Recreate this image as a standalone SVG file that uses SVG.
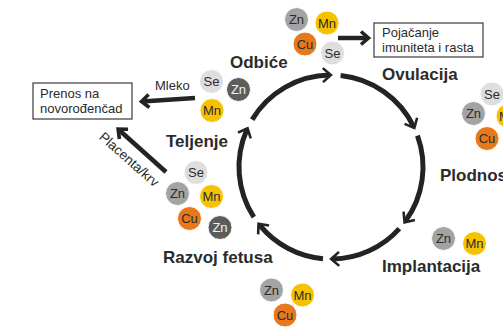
<svg xmlns="http://www.w3.org/2000/svg" width="503" height="327" viewBox="0 0 503 327">
<defs>
<style>
.lbl{font-family:"Liberation Sans",Arial,sans-serif;font-weight:bold;font-size:17px;fill:#2b2b2b}
.txt{font-family:"Liberation Sans",Arial,sans-serif;font-size:13px;fill:#2b2b2b}
.box{fill:#fff;stroke:#3a3a3a;stroke-width:1.2}
.cyc{fill:none;stroke:#232323;stroke-width:5;marker-end:url(#ah)}
.str{fill:none;stroke:#232323;stroke-width:4.5;marker-end:url(#ah2)}
.el text{font-family:"Liberation Sans",Arial,sans-serif;font-size:13px;text-anchor:middle;fill:#2b2b2b}
.el circle{stroke:#fff;stroke-width:1}
.zn{fill:#a3a3a3}
.znd{fill:#5c5c5c}
.mn{fill:#f6c200}
.cu{fill:#e8781c}
.se{fill:#dedede}
.w{fill:#f2f2f2 !important}
</style>
<marker id="ah" markerUnits="userSpaceOnUse" markerWidth="20" markerHeight="20" refX="0" refY="0" viewBox="-10 -10 20 20" orient="auto" overflow="visible">
<path d="M-6.5,-7 L1.5,0 L-6.5,7" fill="none" stroke="#232323" stroke-width="2.6"/>
</marker>
<marker id="ah2" markerUnits="userSpaceOnUse" markerWidth="20" markerHeight="20" refX="0" refY="0" viewBox="-10 -10 20 20" orient="auto" overflow="visible">
<path d="M-7,-6.5 L0.5,0 L-7,6.5" fill="none" stroke="#232323" stroke-width="3.6"/>
</marker>
</defs>
<rect width="503" height="327" fill="#fff"/>

<g id="connectors">
<path class="cyc" d="M252.14,119.62 A92,92 0 0 1 329.39,75.01"/>
<path class="cyc" d="M340.62,75.50 A92,92 0 0 1 413.69,126.67"/>
<path class="cyc" d="M417.45,135.53 A92,92 0 0 1 405.43,221.08"/>
<path class="cyc" d="M399.37,228.56 A92,92 0 0 1 332.61,258.99"/>
<path class="cyc" d="M322.98,258.65 A92,92 0 0 1 259.50,224.90"/>
<path class="cyc" d="M253.84,217.11 A92,92 0 0 1 246.95,129.58"/>
<path class="str" d="M338,38 L368,38"/>
<path class="str" d="M195,98 L142,101.5"/>
<path class="str" d="M166,172 L118.5,129.5"/>
</g>

<g id="ovulacija"><text class="lbl" x="382" y="80">Ovulacija</text></g>
<g id="plodnost"><text class="lbl" x="440" y="181">Plodnost</text></g>
<g id="implantacija"><text class="lbl" x="382" y="272">Implantacija</text></g>
<g id="razvoj"><text class="lbl" x="163" y="263">Razvoj fetusa</text></g>
<g id="teljenje"><text class="lbl" x="166" y="147">Teljenje</text></g>
<g id="odbice"><text class="lbl" x="230" y="68">Odbiće</text></g>

<g id="box-imunitet">
<rect class="box" x="374" y="23" width="109" height="34"/>
<text class="txt" x="382" y="37">Pojačanje</text>
<text class="txt" x="382" y="52">imuniteta i rasta</text>
</g>
<g id="box-prenos">
<rect class="box" x="33" y="83" width="99" height="36"/>
<text class="txt" x="40" y="98">Prenos na</text>
<text class="txt" x="40" y="113">novorođenčad</text>
</g>
<g id="lbl-mleko"><text class="txt" x="155" y="89.5">Mleko</text></g>
<g id="lbl-placenta"><text class="txt" style="font-size:13.5px" transform="translate(98.3,138.3) rotate(41.5)">Placenta/krv</text></g>

<g id="el-top" class="el">
<circle class="zn" cx="296.5" cy="19.5" r="12"/><text x="296.5" y="24">Zn</text>
<circle class="mn" cx="327" cy="23" r="12"/><text x="327" y="27.5">Mn</text>
<circle class="cu" cx="305" cy="44" r="12"/><text x="305" y="48.5">Cu</text>
<circle class="se" cx="332.5" cy="53" r="12"/><text x="332.5" y="57.5">Se</text>
</g>
<g id="el-left" class="el">
<circle class="se" cx="211.5" cy="81.5" r="12"/><text x="211.5" y="86">Se</text>
<circle class="znd" cx="238.5" cy="89.5" r="12"/><text class="w" x="238.5" y="94">Zn</text>
<circle class="mn" cx="212" cy="110.5" r="12"/><text x="212" y="115">Mn</text>
</g>
<g id="el-right" class="el">
<circle class="mn" cx="508" cy="116" r="12"/><text x="508" y="120.5">Mn</text>
<circle class="se" cx="492" cy="94" r="12"/><text x="492" y="98.5">Se</text>
<circle class="zn" cx="473.5" cy="113.5" r="12"/><text x="473.5" y="118">Zn</text>
<circle class="cu" cx="487" cy="138.5" r="12"/><text x="487" y="143">Cu</text>
</g>
<g id="el-birth" class="el">
<circle class="se" cx="196" cy="172.5" r="12"/><text x="196" y="177">Se</text>
<circle class="zn" cx="177.5" cy="193.5" r="12"/><text x="177.5" y="198">Zn</text>
<circle class="mn" cx="211.5" cy="196.5" r="12"/><text x="211.5" y="201">Mn</text>
<circle class="cu" cx="189.5" cy="218.5" r="12"/><text x="189.5" y="223">Cu</text>
<circle class="znd" cx="220" cy="227.5" r="12"/><text class="w" x="220" y="232">Zn</text>
</g>
<g id="el-impl" class="el">
<circle class="zn" cx="443.5" cy="238.5" r="12"/><text x="443.5" y="243">Zn</text>
<circle class="mn" cx="474.5" cy="243.5" r="12"/><text x="474.5" y="248">Mn</text>
</g>
<g id="el-bottom" class="el">
<circle class="zn" cx="271.5" cy="290" r="12"/><text x="271.5" y="294.5">Zn</text>
<circle class="mn" cx="302.5" cy="295" r="12"/><text x="302.5" y="299.5">Mn</text>
<circle class="cu" cx="285" cy="315" r="12"/><text x="285" y="319.5">Cu</text>
</g>
</svg>
